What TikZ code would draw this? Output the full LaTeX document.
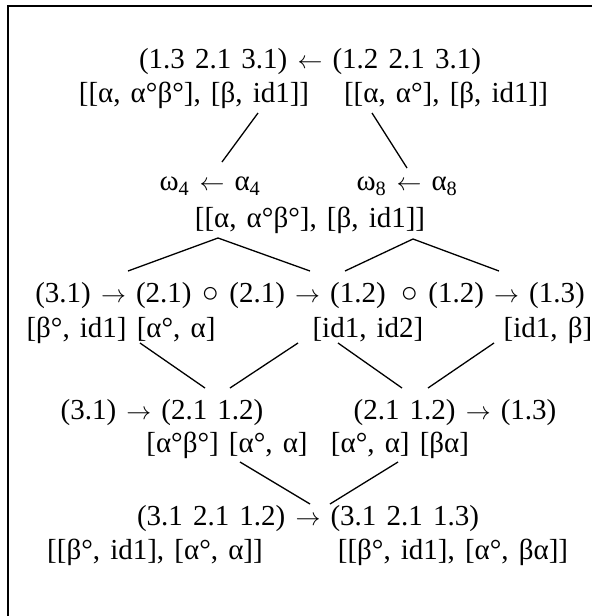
\documentclass[tikz,border=0pt]{standalone}
\usepackage{fontspec}
\setmainfont{Liberation Serif}[WordSpace=1.4]
\usetikzlibrary{positioning}

\newcommand{\la}{\ensuremath{\leftarrow}}
\newcommand{\ra}{\ensuremath{\rightarrow}}

\begin{document}
\begin{tikzpicture}[
        x=1pt, y=-1pt,
        lbl/.style={inner sep=0pt, font=\fontsize{29}{33}\selectfont},
        link/.style={line width=1.3pt, color=black},
        frame/.style={line width=1.8pt, color=black}
    ]
    \useasboundingbox (0,0) rectangle (592,616);

    %% --- frame (top and left edges only) ---
    \draw[frame] (8,616) -- (8,6) -- (592,6);

    %% --- top pair ---
    \node[lbl] (top) at (310,62) {(1.3 2.1 3.1) \la{} (1.2 2.1 3.1)};
    \node[lbl] (twl) at (194,95) {[[α, α°β°], [β, id1]]};
    \node[lbl] (twr) at (446,95) {[[α, α°], [β, id1]]};

    %% --- omega row ---
    \node[lbl] (om4) at (210,186) {ω\textsubscript{4} \la{} α\textsubscript{4}};
    \node[lbl] (om8) at (407,186) {ω\textsubscript{8} \la{} α\textsubscript{8}};
    \node[lbl] (mid) at (310,220) {[[α, α°β°], [β, id1]]};

    %% --- composite row ---
    \node[lbl] (r3) at (310,296) {(3.1) \ra{} (2.1) ○ (2.1) \ra{} (1.2) \,○ (1.2) \ra{} (1.3)};
    \node[lbl] (r4a) at (121,330) {[β°, id1] [α°, α]};
    \node[lbl] (r4b) at (368,330) {[id1, id2]};
    \node[lbl] (r4c) at (548,330) {[id1, β]};

    %% --- pairs ---
    \node[lbl] (r5a) at (162,413) {(3.1) \ra{} (2.1 1.2)};
    \node[lbl] (r5b) at (455,413) {(2.1 1.2) \ra{} (1.3)};
    \node[lbl] (r6a) at (227,445) {[α°β°] [α°, α]};
    \node[lbl] (r6b) at (400,445) {[α°, α] [βα]};

    %% --- result ---
    \node[lbl] (r7) at (308,519) {(3.1 2.1 1.2) \ra{} (3.1 2.1 1.3)};
    \node[lbl] (r8a) at (155,552) {[[β°, id1], [α°, α]]};
    \node[lbl] (r8b) at (453,552) {[[β°, id1], [α°, βα]]};

    %% --- connectors ---
    \draw[link] ([xshift=64pt,yshift=-18pt]twl.center) -- ([xshift=12pt,yshift=24pt]om4.center);
    \draw[link] ([xshift=-74pt,yshift=-18pt]twr.center) -- ([yshift=18pt]om8.center);

    \draw[link] ([xshift=-182pt,yshift=25pt]r3.center) -- ([xshift=-92pt,yshift=-18pt]mid.center)
        -- ([yshift=25pt]r3.center);
    \draw[link] ([xshift=35pt,yshift=25pt]r3.center) -- ([xshift=103pt,yshift=-19pt]mid.center)
        -- ([xshift=189pt,yshift=25pt]r3.center);

    \draw[link] ([xshift=19pt,yshift=-13pt]r4a.center) -- ([xshift=43pt,yshift=25pt]r5a.center);
    \draw[link] ([xshift=-70pt,yshift=-13pt]r4b.center) -- ([xshift=68pt,yshift=25pt]r5a.center);
    \draw[link] ([xshift=-30pt,yshift=-13pt]r4b.center) -- ([xshift=-53pt,yshift=25pt]r5b.center);
    \draw[link] ([xshift=-54pt,yshift=-13pt]r4c.center) -- ([xshift=-27pt,yshift=25pt]r5b.center);

    \draw[link] ([xshift=13pt,yshift=-17pt]r6a.center) -- ([xshift=2pt,yshift=15pt]r7.center);
    \draw[link] ([xshift=-2pt,yshift=-17pt]r6b.center) -- ([xshift=22pt,yshift=15pt]r7.center);

\end{tikzpicture}
\end{document}
